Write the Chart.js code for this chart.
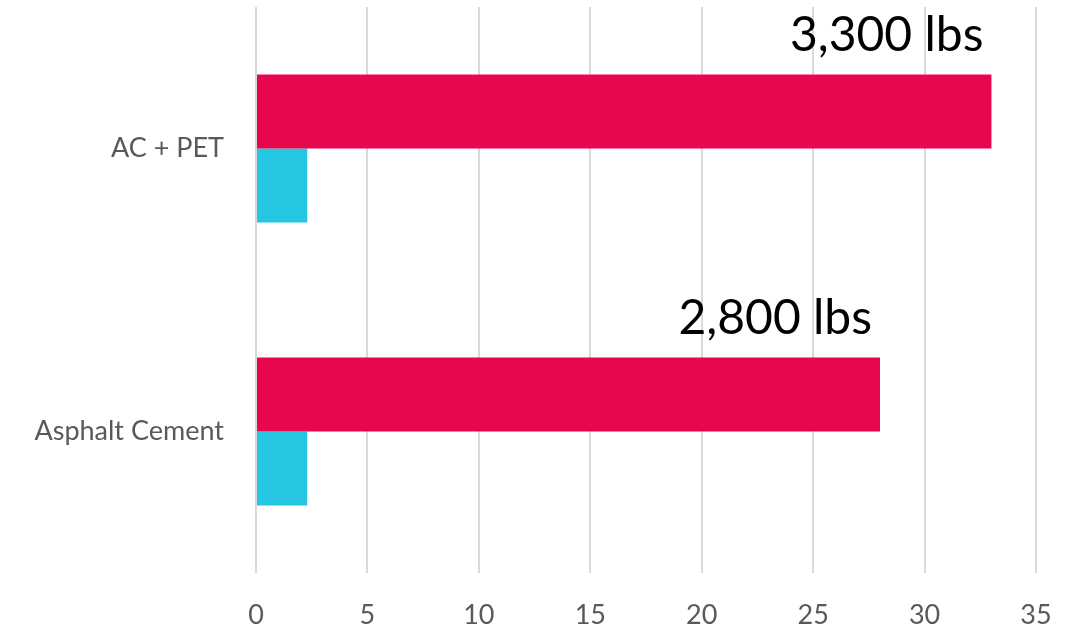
<!DOCTYPE html>
<html>
<head>
<meta charset="utf-8">
<script src="https://cdn.jsdelivr.net/npm/chart.js@4"></script>
<style>
    html, body { margin: 0; padding: 0; background: #fff; }
    #wrap { width: 1071px; height: 627px; }
</style>
</head>
<body>
<div id="wrap"><canvas id="weightChart"></canvas></div>
<script>
    const categories = ['AC + PET', 'Asphalt Cement'];
    const loadValues = [33, 28];
    const smallValues = [2.3, 2.3];
    const loadLabels = ['3,300 lbs', '2,800 lbs'];
    const xTicks = [0, 5, 10, 15, 20, 25, 30, 35];

    // big labels above the pink bars
    const barLabels = {
        id: 'barLabels',
        afterDatasetsDraw(chart) {
            const ctx = chart.ctx;
            const meta = chart.getDatasetMeta(0);
            ctx.save();
            ctx.font = '48px Lato';
            ctx.fillStyle = '#000';
            ctx.textAlign = 'right';
            ctx.textBaseline = 'alphabetic';
            meta.data.forEach((bar, i) => {
                ctx.fillText(loadLabels[i], bar.x - 8, bar.y - bar.height / 2 - 23);
            });
            ctx.restore();
        }
    };

    const ctx = document.getElementById('weightChart').getContext('2d');
    new Chart(ctx, {
        type: 'bar',
        data: {
            labels: categories,
            datasets: [{
                data: loadValues,
                backgroundColor: '#E8074F',
                barPercentage: 1,
                categoryPercentage: 0.523
            }, {
                data: smallValues,
                backgroundColor: '#24C6E2',
                barPercentage: 1,
                categoryPercentage: 0.523
            }]
        },
        options: {
            indexAxis: 'y',
            responsive: true,
            maintainAspectRatio: false,
            animation: false,
            layout: { padding: { top: 7, right: 35, left: 0, bottom: 0 } },
            scales: {
                x: {
                    min: 0,
                    max: 35,
                    afterBuildTicks: scale => { scale.ticks = xTicks.map(v => ({ value: v })); },
                    afterFit: scale => {
                        scale.height = 54;
                        scale.paddingLeft = 0;
                        scale.paddingRight = 0;
                    },
                    grid: { color: '#d9d9d9', lineWidth: 2, drawTicks: false },
                    border: { display: false },
                    ticks: {
                        padding: 26,
                        color: '#595959',
                        font: { family: 'Lato', size: 27 }
                    }
                },
                y: {
                    afterFit: scale => {
                        scale.width = 256;
                        scale.paddingTop = 0;
                        scale.paddingBottom = 0;
                    },
                    grid: { display: false, drawTicks: false },
                    border: { display: false },
                    ticks: {
                        padding: 32,
                        color: '#595959',
                        font: { family: 'Lato', size: 27 }
                    }
                }
            },
            plugins: {
                legend: { display: false },
                tooltip: { enabled: false }
            }
        },
        plugins: [barLabels]
    });
</script>
</body>
</html>
